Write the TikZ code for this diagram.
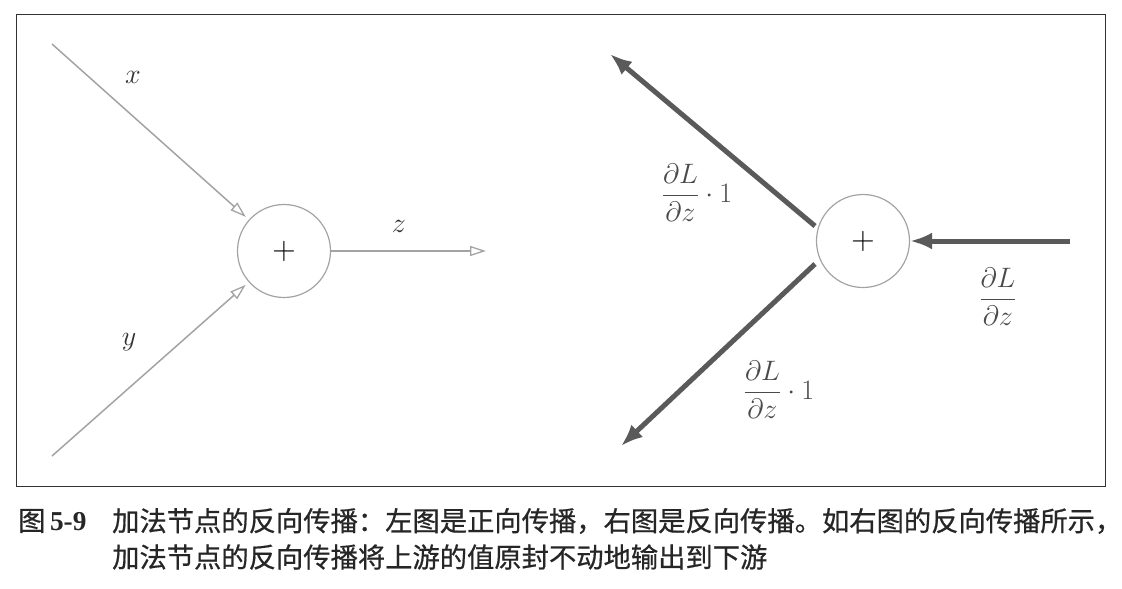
\documentclass[tikz,border=0pt]{standalone}
\usepackage{amsmath}
\usepackage{fontspec}
\newfontfamily\cjk[FakeBold=0.6]{Noto Sans CJK SC}
\usetikzlibrary{arrows.meta}
\definecolor{lightline}{HTML}{A3A3A3}
\definecolor{darkline}{HTML}{5A5A5A}
\definecolor{labelgray}{HTML}{4A4A4A}
\newcommand{\mylabelscale}[1]{\scalebox{1.13}{#1}}
\tikzset{
  opnode/.style={circle, draw=lightline, line width=1.2pt, minimum size=93pt, inner sep=0pt, font=\fontsize{24.88}{30}\selectfont},
  fwdline/.style={draw=lightline, line width=1.5pt, -{Triangle[open, length=16pt, width=10pt, line width=1.3pt]}},
  bwdline/.style={draw=darkline, line width=5pt, -{Latex[length=22pt, width=17pt]}},
  mlabel/.style={text=labelgray, font=\fontsize{24.88}{30}\selectfont, inner sep=0pt},
  caption/.style={font=\cjk\fontsize{27.3}{31}\selectfont, anchor=west, inner sep=0pt, text=black!85}
}
\begin{document}
\begin{tikzpicture}[x=1pt, y=-1pt]
\useasboundingbox (0,0) rectangle (1122,589);
\draw[line width=1pt, black!80] (16,14) rectangle (1105,486);

% left: forward propagation
\node[opnode] (addL) at (284,251) {\scalebox{1.3}{$+$}};
\coordinate (xin) at (52,44);
\coordinate (yin) at (52,456);
\coordinate (zout) at (486,251);
\draw[fwdline, shorten >=4pt] (xin) -- (addL);
\draw[fwdline, shorten >=4pt] (yin) -- (addL);
\draw[fwdline] (addL) -- (zout);
\node[mlabel, text=black!80] (lx) at (133,77) {\mylabelscale{$x$}};
\node[mlabel, text=black!80] (ly) at (129,342) {\mylabelscale{$y$}};
\node[mlabel, text=black!80] (lz) at (399,226) {\mylabelscale{$z$}};

% right: backward propagation
\node[opnode] (addR) at (863,241) {\scalebox{1.3}{$+$}};
\coordinate (gin) at (1070,241);
\coordinate (upstart) at (815,226);
\coordinate (uptip) at (610,54);
\coordinate (lostart) at (815,264);
\coordinate (lotip) at (621,446);
\draw[bwdline] (gin) -- (addR);
\draw[bwdline] (upstart) -- (uptip);
\draw[bwdline] (lostart) -- (lotip);
\node[mlabel] (lup) at (697,193) {\mylabelscale{$\dfrac{\partial L}{\partial z}\cdot 1$}};
\node[mlabel] (llo) at (779,390) {\mylabelscale{$\dfrac{\partial L}{\partial z}\cdot 1$}};
\node[mlabel] (lin) at (998,297) {\mylabelscale{$\dfrac{\partial L}{\partial z}$}};

% caption
\node[caption] (cap0) at (18,521) {图\,{\fontspec{Liberation Serif}\bfseries 5-9}};
\node[caption] (cap1) at (112,521) {加法节点的反向传播：左图是正向传播，右图是反向传播。如右图的反向传播所示，};
\node[caption] (cap2) at (112,557) {加法节点的反向传播将上游的值原封不动地输出到下游};
\end{tikzpicture}
\end{document}
